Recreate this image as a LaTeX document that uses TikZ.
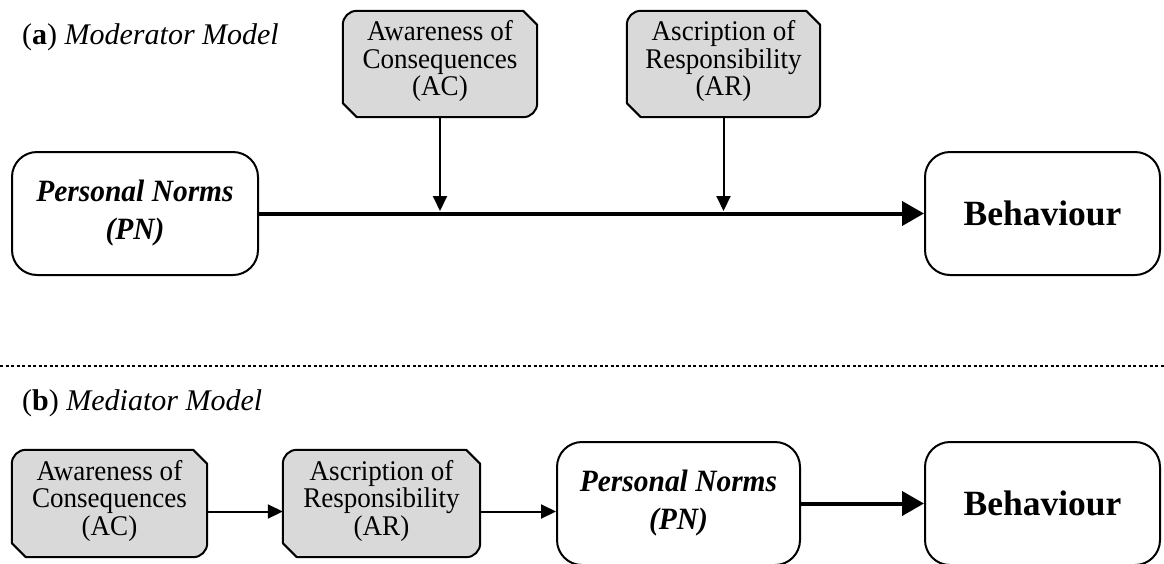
\documentclass[tikz,border=0pt]{standalone}
\usepackage{fontspec}
\setmainfont{Liberation Serif}
\newfontfamily\narrowfont[FakeStretch=0.95]{Liberation Serif}
\usetikzlibrary{arrows.meta,calc}
\definecolor{boxgray}{HTML}{D9D9D9}
\newcommand\snipbox[1]{%
  \filldraw[fill=boxgray, draw=black, line width=2pt, line join=round]
    ([yshift=-14pt]#1.north west) -- ([yshift=14pt]#1.south west)
    -- ([xshift=14pt]#1.south west) -- ([xshift=-14pt]#1.south east)
    arc[start angle=-90, end angle=0, radius=14pt]
    -- ([yshift=-14pt]#1.north east) -- ([xshift=-14pt]#1.north east)
    -- ([xshift=14pt]#1.north west)
    arc[start angle=90, end angle=180, radius=14pt] -- cycle;}
\begin{document}
\begin{tikzpicture}[x=1pt,y=-1pt,
  graytext/.style={inner sep=0pt, align=center, font=\narrowfont\fontsize{28.5}{27.5}\selectfont},
  roundbox/.style={draw, line width=2pt, rounded corners=25pt, fill=white, align=center, inner sep=0pt},
  pntext/.style={font=\narrowfont\fontsize{31}{38}\selectfont\bfseries\itshape},
  bhtext/.style={font=\fontsize{35.5}{40}\selectfont\bfseries},
  label/.style={anchor=west, inner sep=0pt, font=\fontsize{30}{32}\selectfont},
  thickarrow/.style={line width=4pt, -{Triangle[length=22pt,width=24pt]}},
  thinarrow/.style={line width=2pt, -{Triangle[length=15pt,width=14pt]}}]
\useasboundingbox (0,0) rectangle (1164,563);

% (a) Moderator model
\node[label] (la) at (22,37) {(\textbf{a}) \textit{Moderator Model}};
\node[graytext, minimum width=194pt, minimum height=106pt] (acT) at (440,64) {};
\snipbox{acT}
\node[graytext] at ([yshift=3pt]acT.center) {Awareness of\\Consequences\\(AC)};
\node[graytext, minimum width=193pt, minimum height=106pt] (arT) at (723.5,64) {};
\snipbox{arT}
\node[graytext] at ([yshift=3pt]arT.center) {Ascription of\\Responsibility\\(AR)};
\node[roundbox, pntext, minimum width=246pt, minimum height=123pt] (pnT) at (135,213.5) {Personal Norms\\(PN)};
\node[roundbox, bhtext, minimum width=235pt, minimum height=123pt] (bhT) at (1042.5,213.5) {Behaviour};
\draw[thickarrow] (pnT.east) -- (bhT.west);
\coordinate (mAC) at (440,211);
\coordinate (mAR) at (723.5,211);
\draw[thinarrow] (acT.south) -- (mAC);
\draw[thinarrow] (arT.south) -- (mAR);

% separator
\coordinate (sepL) at (0,366);
\coordinate (sepR) at (1164,366);
\draw[line width=2pt, dash pattern=on 3pt off 2.5pt] (sepL) -- (sepR);

% (b) Mediator model
\node[label] (lb) at (22,403) {(\textbf{b}) \textit{Mediator Model}};
\node[graytext, minimum width=195pt, minimum height=107pt] (acB) at (109.5,503.5) {};
\snipbox{acB}
\node[graytext] at ([yshift=3pt]acB.center) {Awareness of\\Consequences\\(AC)};
\node[graytext, minimum width=197pt, minimum height=107pt] (arB) at (381.5,503.5) {};
\snipbox{arB}
\node[graytext] at ([yshift=3pt]arB.center) {Ascription of\\Responsibility\\(AR)};
\node[roundbox, pntext, minimum width=243pt, minimum height=123pt] (pnB) at (678.5,503.5) {Personal Norms\\(PN)};
\node[roundbox, bhtext, minimum width=235pt, minimum height=123pt] (bhB) at (1042.5,503.5) {Behaviour};
\draw[thinarrow] ([yshift=-8pt]acB.east) -- ([yshift=-8pt]acB.east -| arB.west);
\draw[thinarrow] ([yshift=-8pt]arB.east) -- ([yshift=-8pt]arB.east -| pnB.west);
\draw[thickarrow] (pnB.east) -- (bhB.west);
\end{tikzpicture}
\end{document}
